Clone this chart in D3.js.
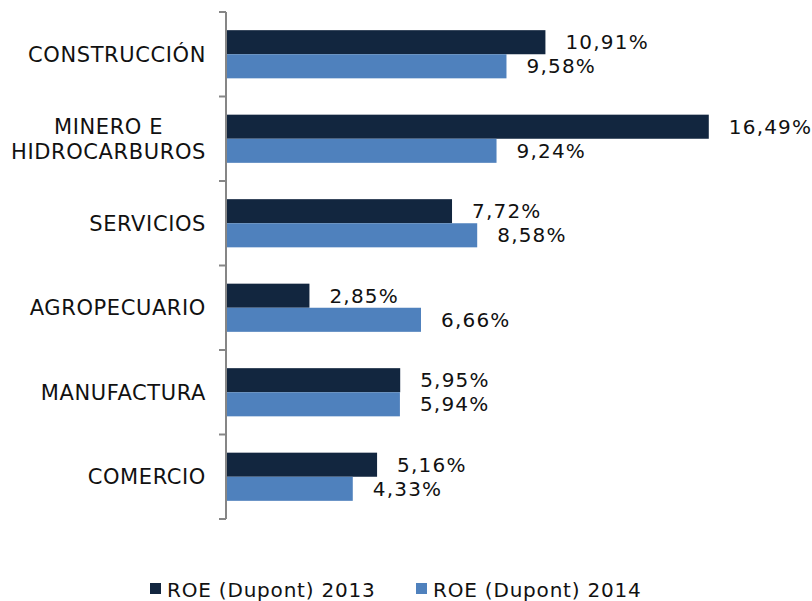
<!DOCTYPE html>
<html><head><meta charset="utf-8">
<script src="https://cdn.jsdelivr.net/npm/d3@7"></script>
<style>body{margin:0;background:#fff}svg{display:block;font-family:"DejaVu Sans",Verdana,sans-serif}</style>
</head><body><svg id="c" width="812" height="601"></svg>
<script>
const categories = [["CONSTRUCCIÓN"],["MINERO E","HIDROCARBUROS"],["SERVICIOS"],["AGROPECUARIO"],["MANUFACTURA"],["COMERCIO"]];
const seriesNames = ["ROE (Dupont) 2013","ROE (Dupont) 2014"];
const roe2013 = [10.91,16.49,7.72,2.85,5.95,5.16];
const roe2014 = [9.58,9.24,8.58,6.66,5.94,4.33];
const colors = ["#12263f","#4f81bd"];

const svg = d3.select("#c");
const keys = categories.map(c=>c.join(" "));
const x = d3.scaleLinear().domain([0,18]).range([226,753]);
const y = d3.scaleBand().domain(keys).range([12,519]).paddingInner(0.43).paddingOuter(0.215);
const sub = d3.scaleBand().domain([0,1]).range([0,y.bandwidth()]);
const fmt = v => v.toFixed(2).replace(".",",")+"%";
const series=[roe2013,roe2014];

keys.forEach((k,i)=>{
  series.forEach((s,j)=>{
    svg.append("rect").attr("x",x(0)).attr("y",y(k)+sub(j))
      .attr("width",x(s[i])-x(0)).attr("height",sub.bandwidth()).attr("fill",colors[j]);
    svg.append("text").attr("x",x(s[i])+20).attr("y",y(k)+sub(j)+sub.bandwidth()/2)
      .attr("dy","0.36em").attr("font-size",20).attr("letter-spacing",1.2).attr("fill","#111").text(fmt(s[i]));
  });
  const lines=categories[i];
  const cy=y(k)+y.bandwidth()/2;
  const g=svg.append("g");
  const ts=lines.map((t,li)=>g.append("text").attr("y",cy+(li-(lines.length-1)/2)*25)
      .attr("dy","0.36em").attr("text-anchor","middle").attr("font-size",21).attr("letter-spacing",0.6).attr("fill","#111").text(t));
  const w=d3.max(ts,t=>t.node().getComputedTextLength());
  ts.forEach(t=>t.attr("x",206-w/2));
});

// axis
const step = y.step();
svg.append("line").attr("x1",226).attr("x2",226).attr("y1",12).attr("y2",519).attr("stroke","#868686").attr("stroke-width",2);
for(let i=0;i<=keys.length;i++){
  const ty=12+i*step;
  svg.append("line").attr("x1",219).attr("x2",226).attr("y1",ty).attr("y2",ty).attr("stroke","#868686").attr("stroke-width",2);
}

// legend
const lx=[150,416];
seriesNames.forEach((n,j)=>{
  svg.append("rect").attr("x",lx[j]).attr("y",583).attr("width",11).attr("height",11).attr("fill",colors[j]);
  svg.append("text").attr("x",lx[j]+17).attr("y",589.5).attr("dy","0.36em").attr("font-size",20).attr("letter-spacing",0.8).attr("fill","#111").text(n);
});
</script></body></html>
